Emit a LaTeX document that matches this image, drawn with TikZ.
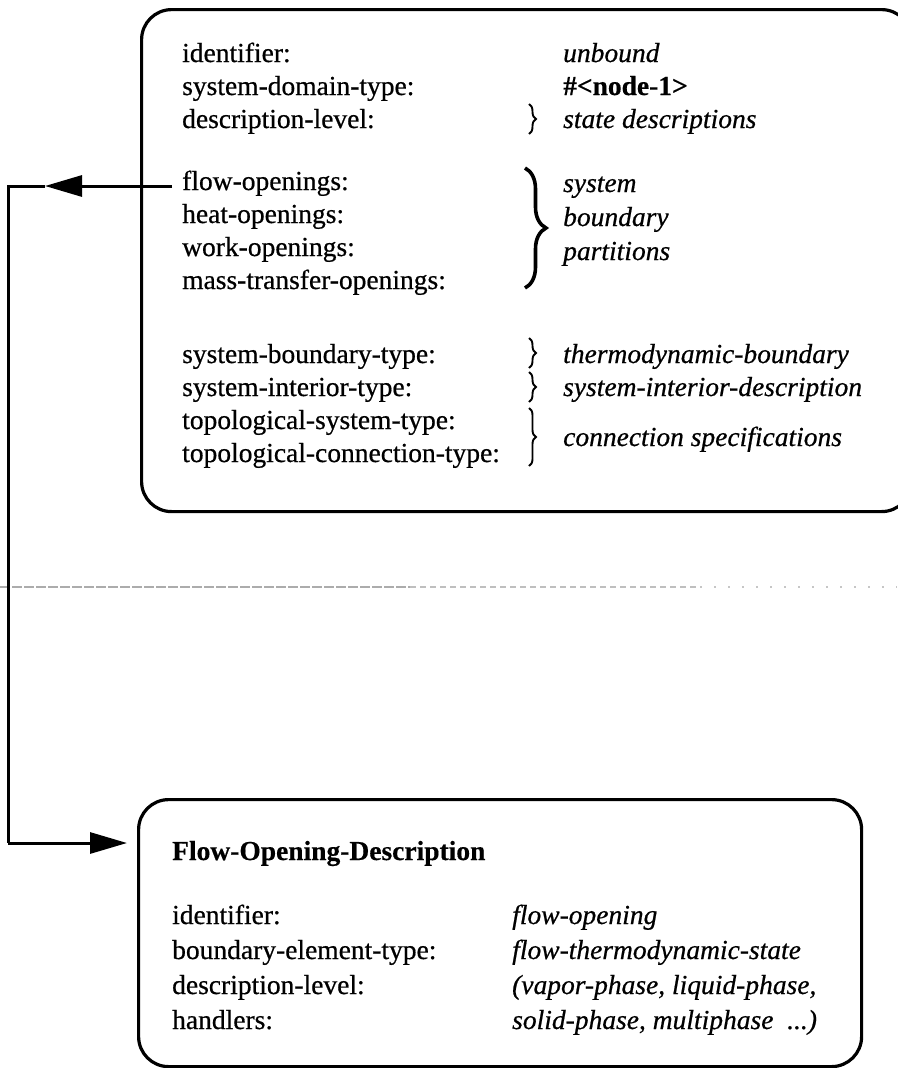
\documentclass[tikz,border=0pt]{standalone}
\usepackage{fontspec}
\setmainfont{Liberation Serif}[UprightFeatures={FakeBold=0.6},ItalicFeatures={FakeBold=0.6},BoldFeatures={FakeBold=0.4}]
\usetikzlibrary{arrows.meta,decorations.pathreplacing}
\begin{document}
\begin{tikzpicture}[x=1pt,y=-1pt,
  txt/.style={anchor=base west,inner sep=0pt,font=\fontsize{27.5}{33}\selectfont},
  val/.style={anchor=base west,inner sep=0pt,font=\fontsize{27.5}{33}\selectfont\itshape},
  frame/.style={draw,line width=3.2pt,rounded corners=30pt,inner sep=0pt,anchor=north west},
  link/.style={line width=3pt},
  head/.style={-{Triangle[length=37pt,width=21pt]}},
  bigbrace/.style={decorate,decoration={brace,amplitude=21pt},line width=3.6pt},
  smallbrace/.style={decorate,decoration={brace,amplitude=7pt},line width=1.9pt},
  fold/.style={gray!65,line width=1.3pt}]

\useasboundingbox (0,0) rectangle (897,1068);

% the two description frames
\node[frame,minimum width=770pt,minimum height=502pt] (sysbox) at (140,8) {};
\node[frame,minimum width=723pt,minimum height=267pt] (fbox) at (137,798) {};

% faint fold line across the sheet
\coordinate (f0) at (0,587);
\coordinate (f1) at (410,587);
\coordinate (f2) at (700,587);
\coordinate (f3) at (897,587);
\draw[fold,dash pattern=on 10pt off 2pt] (f0) -- (f1);
\draw[fold,gray!50,dash pattern=on 6pt off 4pt] (f1) -- (f2);
\draw[fold,gray!45,dash pattern=on 2pt off 12pt] (f2) -- (f3);

% system description: slot names
\node[txt] (k1) at (182,62) {identifier:};
\node[txt] (k2) at (182,95) {system-domain-type:};
\node[txt] (k3) at (182,128) {description-level:};
\node[txt] (k4) at (182,190) {flow-openings:};
\node[txt] (k5) at (182,223) {heat-openings:};
\node[txt] (k6) at (182,256) {work-openings:};
\node[txt] (k7) at (182,289) {mass-transfer-openings:};
\node[txt] (k8) at (182,363) {system-boundary-type:};
\node[txt] (k9) at (182,396) {system-interior-type:};
\node[txt] (k10) at (182,429) {topological-system-type:};
\node[txt] (k11) at (182,462) {topological-connection-type:};

% system description: slot values
\node[val] (v1) at (563,62) {unbound};
\node[txt] (v2) at (563,95) {\bfseries\#<node-1>};
\node[val] (v3) at (563,128) {state descriptions};
\node[val] (v4) at (563,192) {system};
\node[val] (v5) at (563,226) {boundary};
\node[val] (v6) at (563,260) {partitions};
\node[val] (v8) at (563,363) {thermodynamic-boundary};
\node[val] (v9) at (563,396) {system-interior-description};
\node[val] (v10) at (563,446) {connection specifications};

% grouping braces
\draw[smallbrace] (529,104) -- (529,134);
\draw[bigbrace] (525,168) -- (525,288);
\draw[smallbrace] (529,338) -- (529,368);
\draw[smallbrace] (529,372) -- (529,402);
\draw[smallbrace] (529,408) -- (529,466);

% flow opening description
\node[txt,font=\fontsize{27.5}{33}\selectfont\bfseries] (ftitle) at (172,860) {Flow-Opening-Description};
\node[txt] (fk1) at (172,924) {identifier:};
\node[txt] (fk2) at (172,959) {boundary-element-type:};
\node[txt] (fk3) at (172,994) {description-level:};
\node[txt] (fk4) at (172,1029) {handlers:};
\node[val] (fv1) at (512,924) {flow-opening};
\node[val] (fv2) at (512,959) {flow-thermodynamic-state};
\node[val] (fv3) at (512,994) {(vapor-phase, liquid-phase,};
\node[val] (fv4) at (512,1029) {solid-phase, multiphase\ \ ...)};

% link from the flow-openings slot to its description
\coordinate (fo) at (172,186);
\coordinate (tipA) at (45,186);
\coordinate (cA) at (8,186);
\coordinate (cB) at (8,843);
\draw[link,head] (fo) -- (tipA);
\draw[link] (tipA) -- (cA) -- (cB);
\draw[link,head,shorten >=10pt] (cB) -- (fbox.west |- cB);
\end{tikzpicture}
\end{document}
